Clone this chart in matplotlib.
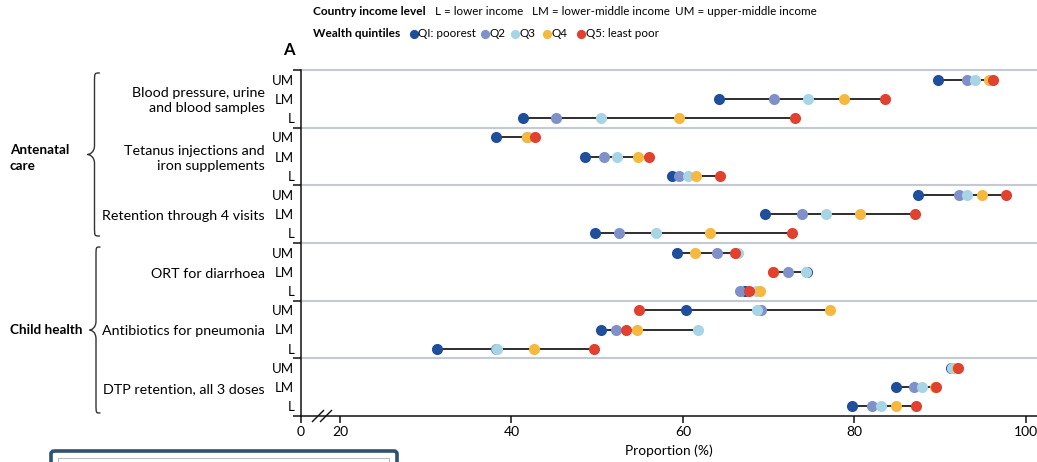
import numpy as np
import matplotlib
matplotlib.use("Agg")
import matplotlib.pyplot as plt
from matplotlib.path import Path
from matplotlib.patches import PathPatch, FancyBboxPatch
from matplotlib.transforms import blended_transform_factory

plt.rcParams['font.family'] = ['Lato', 'DejaVu Sans']

# ---------------------------------------------------------------- data
indicators = [
    "Blood pressure, urine\nand blood samples",
    "Tetanus injections and\niron supplements",
    "Retention through 4 visits",
    "ORT for diarrhoea",
    "Antibiotics for pneumonia",
    "DTP retention, all 3 doses",
]
domains = ["Antenatal\ncare", "Child health"]
income_levels = ["UM", "LM", "L"]
income_key = ["L = lower income", "LM = lower-middle income", "UM = upper-middle income"]
quintile_labels = ["QI: poorest", "Q2", "Q3", "Q4", "Q5: least poor"]
quintile_colors = ["#1f4f9a", "#7f91c8", "#a8d5e5", "#f5b940", "#e0422f"]

# one value per row: indicator x income level (UM, LM, L), top to bottom
q1 = [89.7, 64.2, 41.3, 38.2, 48.6, 58.7, 87.4, 69.6, 49.7,
      59.3, 74.5, 67.2, 60.3, 50.5, 31.3, 91.3, 84.8, 79.7]
q2 = [93.1, 70.6, 45.2, 41.8, 50.8, 59.5, 92.2, 73.9, 52.5,
      64.0, 72.2, 66.6, 69.1, 52.2, 38.2, 91.4, 86.9, 82.1]
q3 = [94.1, 74.6, 50.4, 41.8, 52.3, 60.6, 93.1, 76.7, 56.9,
      66.4, 74.3, 68.5, 68.6, 61.7, 38.3, 91.4, 87.9, 83.1]
q4 = [95.7, 78.8, 59.5, 41.8, 54.8, 61.5, 94.9, 80.7, 63.1,
      61.4, 70.5, 69.0, 77.1, 54.7, 42.6, 92.0, 89.4, 84.8]
q5 = [96.2, 83.6, 73.1, 42.7, 56.0, 64.3, 97.7, 87.1, 72.7,
      66.1, 70.5, 67.7, 54.9, 53.4, 49.6, 92.1, 89.5, 87.2]

x_ticks = [20, 40, 60, 80, 100]
x_tick_labels = ["20", "40", "60", "80", "100"]

# ---------------------------------------------------------------- layout
W, H = 1037, 462
fig = plt.figure(figsize=(W / 100, H / 100), dpi=100)
renderer = fig.canvas.get_renderer()


def fit_size(texts, ref, width_px, boost=1.0):
    """Scale the font size of a group of texts so that `ref` spans width_px."""
    w = ref.get_window_extent(renderer=renderer).width
    size = ref.get_fontsize() * width_px / w * boost
    for t in texts:
        t.set_fontsize(size)
    return size


def px_box(x0, y0, x1, y1):
    return [x0 / W, 1 - y1 / H, (x1 - x0) / W, (y1 - y0) / H]


ax = fig.add_axes(px_box(301, 70, 1037, 416))
series = [q1, q2, q3, q4, q5]
vals = np.array(series, dtype=float)
n_rows = vals.shape[1]
rows = np.arange(n_rows) + 0.5

x_min, x_max = 15.45, 101.3   # axis is broken between 0 and 20
ax.set_xlim(x_min, x_max)
ax.set_ylim(n_rows, 0)

# group separators
for b in range(0, n_rows, 3):
    ax.axhline(b, color="#c4cad4", lw=1.5, zorder=1, clip_on=False)

# range line from the lowest to the highest quintile
lo = np.nanmin(vals, axis=0)
hi = np.nanmax(vals, axis=0)
ax.hlines(rows, lo, hi, color="#2d2d2d", lw=1.4, zorder=2)

for i, (v, c) in enumerate(zip(series, quintile_colors)):
    ax.scatter(v, rows, s=64, color=c, linewidths=0, zorder=3 + i)

for side in ("top", "right"):
    ax.spines[side].set_visible(False)
for side in ("left", "bottom"):
    ax.spines[side].set_linewidth(1.1)
    ax.spines[side].set_color("#111111")

row_labels = income_levels * len(indicators)
ax.set_yticks(rows, row_labels)
ax.set_yticks(np.arange(0, n_rows + 1, 3), minor=True)
ax.tick_params(axis="y", which="major", length=0, pad=5, labelsize=9.5)
ax.tick_params(axis="y", which="minor", length=6, width=1.1, color="#111111")

ax.set_xticks([x_min] + x_ticks, ["0"] + x_tick_labels)
ax.tick_params(axis="x", length=5, width=1.1, pad=2, labelsize=10, color="#111111")
xl = ax.set_xlabel("Proportion (%)", fontsize=10, labelpad=5)
fit_size([xl], xl, 88)

# indicator names beside each block of three rows
tr = blended_transform_factory(ax.transAxes, ax.transData)
ind_texts = []
for k, name in enumerate(indicators):
    ind_texts.append(ax.text(-0.049, 3 * k + 1.6, name, transform=tr, ha="right",
                             va="center", fontsize=10.3, linespacing=1.3))
fit_size(ind_texts, ind_texts[2], 162)

# ---------------------------------------------------------------- overlay (pixel coordinates)
ov = fig.add_axes([0, 0, 1, 1])
ov.set_xlim(0, W)
ov.set_ylim(H, 0)
ov.axis("off")
ov.patch.set_visible(False)


def brace(x_end, x_stem, x_tip, y_top, y_bot, r=9):
    y_mid = (y_top + y_bot) / 2
    verts = [
        (x_end, y_top),
        (x_stem, y_top), (x_stem, y_top), (x_stem, y_top + r),
        (x_stem, y_mid - r),
        (x_stem, y_mid - 2), (x_tip + 2, y_mid), (x_tip, y_mid),
        (x_tip + 2, y_mid), (x_stem, y_mid + 2), (x_stem, y_mid + r),
        (x_stem, y_bot - r),
        (x_stem, y_bot), (x_stem, y_bot), (x_end, y_bot),
    ]
    codes = [Path.MOVETO,
             Path.CURVE4, Path.CURVE4, Path.CURVE4,
             Path.LINETO,
             Path.CURVE4, Path.CURVE4, Path.CURVE4,
             Path.CURVE4, Path.CURVE4, Path.CURVE4,
             Path.LINETO,
             Path.CURVE4, Path.CURVE4, Path.CURVE4]
    ov.add_patch(PathPatch(Path(verts, codes), fill=False, lw=1.0,
                           edgecolor="#333333", capstyle="round"))


brace(99.5, 94.5, 87.5, 73, 236)
brace(100, 96, 89.5, 247, 413)

d0 = ov.text(10, 158, domains[0], ha="left", va="center", fontsize=10.2,
             weight="bold", linespacing=1.35)
d1 = ov.text(10, 330, domains[1], ha="left", va="center", fontsize=10.2,
             weight="bold")
fit_size([d0, d1], d1, 72)

ov.text(289, 50, "A", ha="center", va="center", fontsize=12, weight="bold")

# axis break marks
for x0 in (312, 320):
    ov.plot([x0, x0 + 12], [422, 410], color="#111111", lw=1.0,
            solid_capstyle="butt")

# legend block
h1 = ov.text(313, 11.5, "Country income level", ha="left", va="center",
             fontsize=9, weight="bold")
h2 = ov.text(313, 33.5, "Wealth quintiles", ha="left", va="center",
             fontsize=9, weight="bold")
fit_size([h1, h2], h1, 106, boost=1.06)

key_texts = []
for x, t in zip((435, 532, 675), income_key):
    key_texts.append(ov.text(x, 11.5, t, ha="left", va="center", fontsize=9))
for x, t, c in zip((413.5, 484.5, 515, 547, 581), quintile_labels, quintile_colors):
    ov.scatter([x], [33.5], s=44, color=c, linewidths=0)
    key_texts.append(ov.text(x + 5, 33.5, t, ha="left", va="center", fontsize=9))
fit_size(key_texts, key_texts[1], 128, boost=1.08)

# top edge of the next panel's box
ov.add_patch(FancyBboxPatch((51, 451), 346, 40, boxstyle="round,pad=0,rounding_size=3",
                            fill=False, edgecolor="#2f5270", lw=2.6, clip_on=False))
ov.add_patch(FancyBboxPatch((58, 458), 331, 30, boxstyle="square,pad=0",
                            fill=False, edgecolor="#b5bec4", lw=0.8, clip_on=False))

fig.savefig("out.png", dpi=100)
